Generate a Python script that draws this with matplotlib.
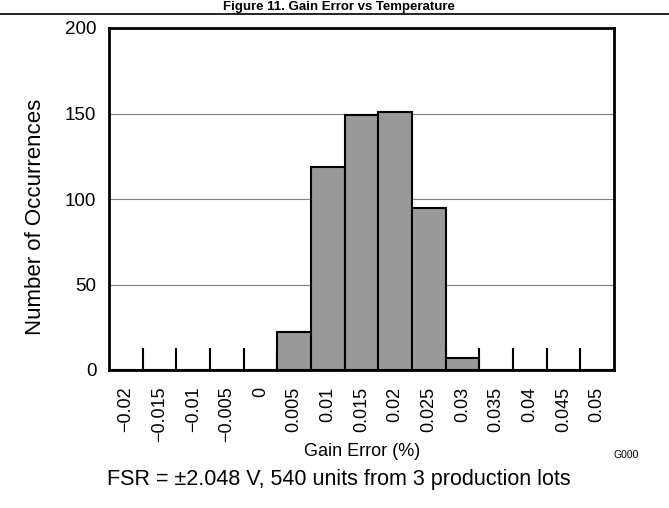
import numpy as np
import matplotlib
matplotlib.use("Agg")
import matplotlib.pyplot as plt

plt.rcParams['font.family'] = ['Liberation Sans', 'DejaVu Sans']

# histogram data: gain error bins (%) and counts
bin_labels = ["\u22120.02", "\u22120.015", "\u22120.01", "\u22120.005", "0",
              "0.005", "0.01", "0.015", "0.02", "0.025",
              "0.03", "0.035", "0.04", "0.045", "0.05"]
counts = [0, 0, 0, 0, 0, 22, 119, 149, 151, 95, 7, 0, 0, 0, 0]
y_ticks = [0, 50, 100, 150, 200]

W, H = 669, 508
fig = plt.figure(figsize=(W / 100, H / 100), dpi=100)
ax = fig.add_axes([109 / W, 1 - 370 / H, (614 - 109) / W, (370 - 28) / H])

x = np.arange(len(counts))
ax.bar(x, counts, width=1.0, color="#999999", edgecolor="black",
       linewidth=1.5, zorder=3)

ax.set_xlim(-0.5, len(counts) - 0.5)
ax.set_ylim(0, 200)
ax.set_yticks(y_ticks)
ax.set_yticklabels([str(v) for v in y_ticks], fontsize=13.5)
ax.tick_params(axis="y", length=0, pad=9)
for v in y_ticks[1:-1]:
    ax.axhline(v, color="#808080", linewidth=0.8, zorder=1)

# category labels centred in each bin, tick marks on bin edges
ax.set_xticks(x)
ax.set_xticklabels(bin_labels, rotation=90, fontsize=13)
ax.tick_params(axis="x", length=0, pad=12)
for edge in x[1:] - 0.5:
    ax.plot([edge, edge], [0, 12], color="black", linewidth=1.5, zorder=2)

for s in ax.spines.values():
    s.set_linewidth(2)

fig.text(36 / W, 1 - 217 / H, "Number of Occurrences", rotation=90,
         ha="center", va="center", fontsize=16)
fig.text(362 / W, 1 - 452 / H, "Gain Error (%)", ha="center", va="center",
         fontsize=13)

# header line and figure title
fig.add_artist(plt.Line2D([0, 1], [1 - 14 / H, 1 - 14 / H], color="black", linewidth=1.2))
fig.text(339 / W, 1 - 10 / H, "Figure 11. Gain Error vs Temperature",
         ha="center", va="baseline", fontsize=9.5, fontweight="bold")

fig.text(626 / W, 1 - 455 / H, "G000", ha="center", va="center", fontsize=7.5)
fig.text(339 / W, 1 - 479 / H, "FSR = \u00b12.048 V, 540 units from 3 production lots",
         ha="center", va="center", fontsize=15.5)

fig.savefig("out.png", dpi=100)
